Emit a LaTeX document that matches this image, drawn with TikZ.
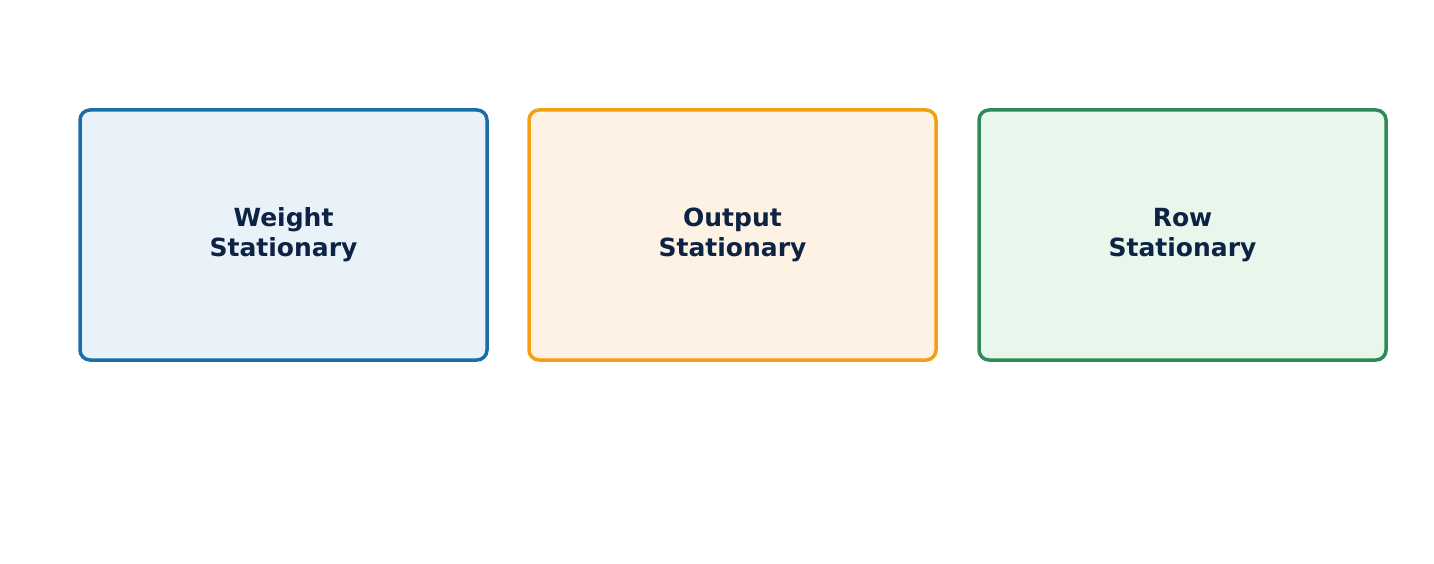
\documentclass[tikz,border=0pt]{standalone}
\usepackage{fontspec}
\setmainfont{DejaVu Sans}
\definecolor{tx}{HTML}{0D2344}
\definecolor{bl}{HTML}{1A6EA8}\definecolor{blf}{HTML}{EAF2F9}
\definecolor{or}{HTML}{F29F12}\definecolor{orf}{HTML}{FEF2E5}
\definecolor{gr}{HTML}{2E8A57}\definecolor{grf}{HTML}{E9F6EC}
\begin{document}
\begin{tikzpicture}[x=1pt,y=1pt,
 box/.style={draw=#1,fill=#1f,line width=3.5pt,rounded corners=10pt,minimum width=407pt,minimum height=250pt,inner sep=0pt,
  font=\fontsize{25}{30}\selectfont\bfseries,text=tx,align=center}]
\useasboundingbox (0,0) rectangle (1434,563);
\node[box=bl] (w) at (283.5,328) {Weight\\Stationary};
\node[box=or] (o) at (732.5,328) {Output\\Stationary};
\node[box=gr] (r) at (1182.5,328) {Row\\Stationary};
\end{tikzpicture}
\end{document}
